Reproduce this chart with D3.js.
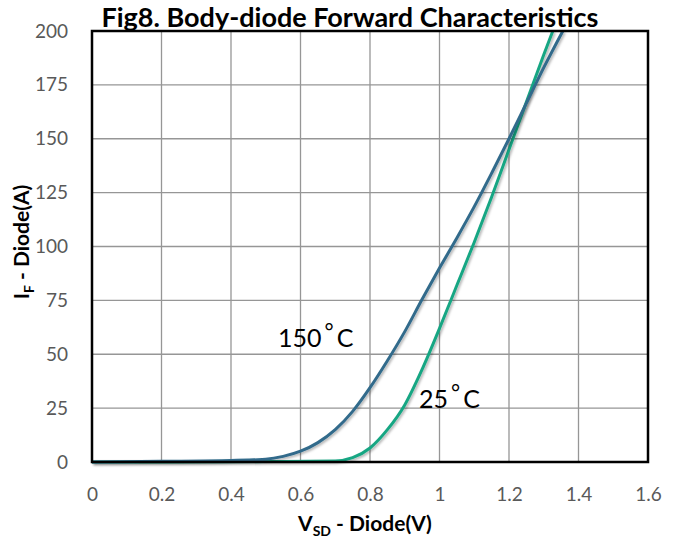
<!DOCTYPE html>
<html>
<head>
<meta charset="utf-8">
<script src="https://cdn.jsdelivr.net/npm/d3@7.9.0/dist/d3.min.js"></script>
<style>
  body { margin: 0; background: #fff; }
  svg { display: block; font-family: Lato, "Open Sans", sans-serif; }
</style>
</head>
<body>
<svg id="chart" width="681" height="540"></svg>
<script>
// data
const vdHot = [0, 0.2, 0.4, 0.5, 0.55, 0.6, 0.65, 0.7, 0.75, 0.8, 0.85, 0.9, 0.95, 1.0, 1.05, 1.1, 1.15, 1.2, 1.25, 1.3, 1.355];
const ifHot = [0, 0.3, 0.7, 1.3, 2.6, 5, 9, 15, 23.5, 34.5, 47, 60.5, 75.5, 90, 104, 118.5, 134, 150, 166.5, 183, 200];
const vdCold = [0, 0.5, 0.7, 0.75, 0.8, 0.85, 0.9, 0.95, 1.0, 1.05, 1.1, 1.15, 1.2, 1.25, 1.3, 1.326];
const ifCold = [0, 0.2, 0.5, 2, 6.5, 15, 26.5, 43, 62, 82, 102, 123, 145, 167, 189, 200];
const xTicks = [0, 0.2, 0.4, 0.6, 0.8, 1, 1.2, 1.4, 1.6];
const yTicks = [0, 25, 50, 75, 100, 125, 150, 175, 200];

const margin = { left: 92, right: 33, top: 31, bottom: 78 };
const W = 681, H = 540;
const svg = d3.select("#chart");

const x = d3.scaleLinear().domain([0, 1.6]).range([margin.left, W - margin.right]);
const y = d3.scaleLinear().domain([0, 200]).range([H - margin.bottom, margin.top]);

// soft shadow like the excel line effect
const defs = svg.append("defs");
defs.append("filter").attr("id", "shadow")
  .attr("x", "-10%").attr("y", "-10%").attr("width", "120%").attr("height", "120%")
  .append("feDropShadow")
  .attr("dx", 1.5).attr("dy", 1.5).attr("stdDeviation", 1)
  .attr("flood-color", "#000").attr("flood-opacity", 0.3);

// gridlines
svg.append("g").selectAll("line").data(xTicks).join("line")
  .attr("x1", d => x(d)).attr("x2", d => x(d))
  .attr("y1", y(0)).attr("y2", y(200))
  .attr("stroke", "#969696").attr("stroke-width", 1.3);
svg.append("g").selectAll("line").data(yTicks).join("line")
  .attr("x1", x(0)).attr("x2", x(1.6))
  .attr("y1", d => y(d)).attr("y2", d => y(d))
  .attr("stroke", "#969696").attr("stroke-width", 1.3);

// tick labels
const yAxis = svg.append("g")
  .attr("transform", `translate(${margin.left},0)`)
  .call(d3.axisLeft(y).tickValues(yTicks).tickSize(0).tickPadding(24));
const xAxis = svg.append("g")
  .attr("transform", `translate(0,${H - margin.bottom})`)
  .call(d3.axisBottom(x).tickValues(xTicks).tickSize(0).tickPadding(26).tickFormat(d3.format("")));
[xAxis, yAxis].forEach(g => {
  g.select(".domain").remove();
  g.selectAll("text").attr("fill", "#595959").style("font-size", "19px").style("font-family", "Lato");
});

// curves
const line = d3.line().curve(d3.curveMonotoneX);
const hot = vdHot.map((v, i) => [x(v), y(ifHot[i])]);
const cold = vdCold.map((v, i) => [x(v), y(ifCold[i])]);

svg.append("path").attr("d", line(cold))
  .attr("fill", "none").attr("stroke", "#17a683").attr("stroke-width", 3)
  .attr("filter", "url(#shadow)");
svg.append("path").attr("d", line(hot))
  .attr("fill", "none").attr("stroke", "#306b8b").attr("stroke-width", 3)
  .attr("filter", "url(#shadow)");

// plot border
svg.append("rect")
  .attr("x", x(0)).attr("y", y(200))
  .attr("width", x(1.6) - x(0)).attr("height", y(0) - y(200))
  .attr("fill", "none").attr("stroke", "#000").attr("stroke-width", 2.5);

// title
svg.append("text")
  .attr("x", 350).attr("y", 27)
  .attr("text-anchor", "middle")
  .style("font-size", "27px").style("font-weight", "bold")
  .text("Fig8. Body-diode Forward Characteristics");

// axis titles
const xt = svg.append("text")
  .attr("x", 365).attr("y", 531)
  .attr("text-anchor", "middle")
  .style("font-size", "21px").style("font-weight", "bold");
xt.append("tspan").text("V");
xt.append("tspan").attr("dy", 5).style("font-size", "14px").text("SD");
xt.append("tspan").attr("dy", -5).text(" - Diode(V)");

const yt = svg.append("text")
  .attr("transform", "translate(29,242) rotate(-90)")
  .attr("text-anchor", "middle")
  .style("font-size", "21px").style("font-weight", "bold");
yt.append("tspan").text("I");
yt.append("tspan").attr("dy", 5).style("font-size", "14px").text("F");
yt.append("tspan").attr("dy", -5).text(" - Diode(A)");

// temperature labels
function tempLabel(px, py, num) {
  const t = svg.append("text").attr("x", px).attr("y", py)
    .style("font-size", "25px").attr("fill", "#000");
  t.append("tspan").text(num);
  t.append("tspan").attr("dx", 3).attr("dy", -8).style("font-size", "22px").text("°");
  t.append("tspan").attr("dx", 3).attr("dy", 8).text("C");
}
tempLabel(278, 347, "150");
tempLabel(419, 408, "25");
</script>
</body>
</html>
